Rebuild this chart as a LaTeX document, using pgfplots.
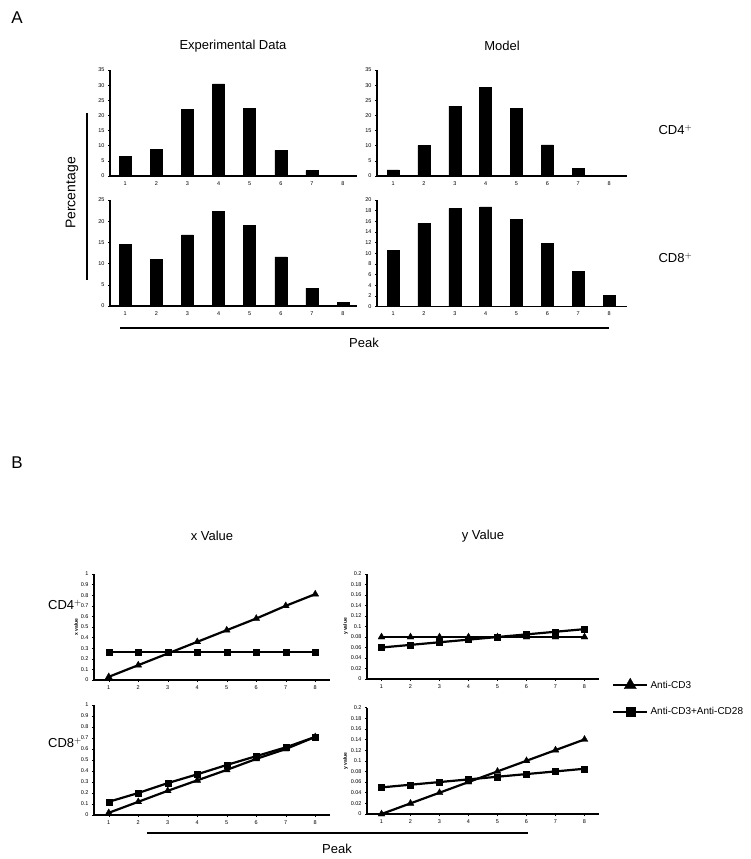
\documentclass[border=0pt]{standalone}
\usepackage{pgfplots}
\pgfplotsset{compat=1.18}
\usepackage{fontspec}
\setmainfont{Liberation Sans}
\pgfplotsset{
  panel/.style={scale only axis, anchor=south west, axis lines=left, axis line style={-, line width=1.1pt},
    tick label style={font=\fontsize{5.5}{6}\selectfont}, /pgf/number format/assume math mode=true,
    major tick length=2pt, tick align=outside, tick style={line width=0.5pt, black},
    xtick={1,...,8}, ymin=0, clip=false},
  bars/.style={panel, ybar, bar width=12pt, xtick style={draw=none}},
  lines/.style={panel, xmin=0.5, xmax=8.5, /pgf/number format/fixed, /pgf/number format/precision=2},
  tri/.style={black, line width=2.2pt, mark=triangle*, mark size=4pt, mark options={solid, line width=0.3pt}},
  sq/.style={black, line width=2.2pt, mark=square*, mark size=3pt, mark options={solid, line width=0.3pt}},
}
\begin{document}
\begin{tikzpicture}
\path[use as bounding box] (0pt,0pt) rectangle (750pt,-859pt);
% ---------- Panel A ----------
\node[font=\fontsize{17}{17}\selectfont] at (17pt,-18pt) {A};
\node[font=\fontsize{13}{13}\selectfont] at (233pt,-46pt) {Experimental Data};
\node[font=\fontsize{13}{13}\selectfont] at (502pt,-46pt) {Model};
\node[font=\fontsize{14}{14}\selectfont, rotate=90] at (72pt,-193pt) {Percentage};
\draw[line width=2.2pt] (87pt,-113pt) -- (87pt,-280pt);
\node[font=\fontsize{13}{13}\selectfont, anchor=west] at (655pt,-130pt) {CD4$^{+}$};
\node[font=\fontsize{13}{13}\selectfont, anchor=west] at (655pt,-258pt) {CD8$^{+}$};
\draw[line width=2.2pt] (120pt,-328pt) -- (609pt,-328pt);
\node[font=\fontsize{13}{13}\selectfont] at (364pt,-343pt) {Peak};

\begin{axis}[bars, at={(110pt,-176pt)}, width=247pt, height=106pt, xmin=0.51, xmax=8.45, ymax=35, ytick={0,5,...,35}]
\addplot[fill=black, draw=black] coordinates {(1,6.5) (2,8.8) (3,22.1) (4,30.4) (5,22.4) (6,8.5) (7,1.8) (8,0)};
\end{axis}
\begin{axis}[bars, at={(377pt,-176pt)}, width=250pt, height=106pt, xmin=0.48, xmax=8.58, ymax=35, ytick={0,5,...,35}]
\addplot[fill=black, draw=black] coordinates {(1,2.0) (2,10.1) (3,23.1) (4,29.3) (5,22.3) (6,10.3) (7,2.6) (8,0.3)};
\end{axis}
\begin{axis}[bars, at={(110pt,-306pt)}, width=247pt, height=106pt, xmin=0.51, xmax=8.45, ymax=25, ytick={0,5,...,25}]
\addplot[fill=black, draw=black] coordinates {(1,14.5) (2,11.0) (3,16.8) (4,22.3) (5,19.0) (6,11.6) (7,4.2) (8,0.8)};
\end{axis}
\begin{axis}[bars, at={(377pt,-306.5pt)}, width=250pt, height=106.5pt, xmin=0.48, xmax=8.58, ymax=20, ytick={0,2,...,20}]
\addplot[fill=black, draw=black] coordinates {(1,10.6) (2,15.6) (3,18.4) (4,18.7) (5,16.4) (6,11.9) (7,6.6) (8,2.1)};
\end{axis}

% ---------- Panel B ----------
\node[font=\fontsize{17}{17}\selectfont] at (17pt,-463pt) {B};
\node[font=\fontsize{13}{13}\selectfont] at (212pt,-536pt) {x Value};
\node[font=\fontsize{13}{13}\selectfont] at (483pt,-536pt) {y Value};
\node[font=\fontsize{13}{13}\selectfont] at (65pt,-605pt) {CD4$^{+}$};
\node[font=\fontsize{13}{13}\selectfont] at (65pt,-743pt) {CD8$^{+}$};
\draw[line width=2.2pt] (147pt,-833pt) -- (528pt,-833pt);
\node[font=\fontsize{13}{13}\selectfont] at (337pt,-849pt) {Peak};

\begin{axis}[lines, at={(94pt,-680pt)}, width=236pt, height=106pt, ymax=1, ytick={0,0.1,...,1.01},
  ylabel={x value}, ylabel style={font=\fontsize{5}{5}\selectfont\bfseries, yshift=-4pt}]
\addplot[tri] coordinates {(1,0.03) (2,0.14) (3,0.25) (4,0.36) (5,0.47) (6,0.58) (7,0.70) (8,0.81)};
\addplot[sq] coordinates {(1,0.264) (2,0.264) (3,0.264) (4,0.264) (5,0.264) (6,0.264) (7,0.264) (8,0.264)};
\end{axis}
\begin{axis}[lines, at={(367pt,-679pt)}, width=232pt, height=105pt, ymax=0.2, ytick={0,0.02,...,0.201},
  ylabel={y value}, ylabel style={font=\fontsize{5}{5}\selectfont\bfseries, yshift=-4pt},
  legend style={at={(1.055,0.01)}, anchor=north west, draw=none, fill=none, row sep=14pt,
    font=\fontsize{10}{10}\selectfont, legend cell align=left, inner sep=0pt,
    /tikz/every even column/.append style={column sep=4pt}},
  legend image code/.code={\draw[mark repeat=2,mark phase=2,#1] plot coordinates {(0pt,0pt) (17pt,0pt) (34pt,0pt)};}]
\addplot[tri, forget plot] coordinates {(1,0.08) (2,0.08) (3,0.08) (4,0.08) (5,0.08) (6,0.08) (7,0.08) (8,0.08)};
\addplot[sq, forget plot] coordinates {(1,0.06) (2,0.065) (3,0.07) (4,0.075) (5,0.08) (6,0.085) (7,0.09) (8,0.095)};
\addlegendimage{black, line width=2.6pt, mark=triangle*, mark size=7pt, mark options={solid, line width=0.3pt}}
\addlegendentry{Anti-CD3}
\addlegendimage{black, line width=2.6pt, mark=square*, mark size=4.5pt, mark options={solid, line width=0.3pt}}
\addlegendentry{Anti-CD3+Anti-CD28}
\end{axis}
\begin{axis}[lines, at={(94pt,-815pt)}, width=236pt, height=110pt, ymax=1, ytick={0,0.1,...,1.01}]
\addplot[tri] coordinates {(1,0.02) (2,0.12) (3,0.22) (4,0.315) (5,0.41) (6,0.51) (7,0.60) (8,0.71)};
\addplot[sq] coordinates {(1,0.12) (2,0.20) (3,0.29) (4,0.37) (5,0.455) (6,0.535) (7,0.615) (8,0.71)};
\end{axis}
\begin{axis}[lines, at={(367pt,-814pt)}, width=232pt, height=106.5pt, ymax=0.2, ytick={0,0.02,...,0.201},
  ylabel={y value}, ylabel style={font=\fontsize{5}{5}\selectfont\bfseries, yshift=-4pt}]
\addplot[tri] coordinates {(1,0) (2,0.02) (3,0.04) (4,0.06) (5,0.08) (6,0.10) (7,0.12) (8,0.14)};
\addplot[sq] coordinates {(1,0.05) (2,0.055) (3,0.06) (4,0.065) (5,0.07) (6,0.075) (7,0.08) (8,0.085)};
\end{axis}
\end{tikzpicture}
\end{document}
